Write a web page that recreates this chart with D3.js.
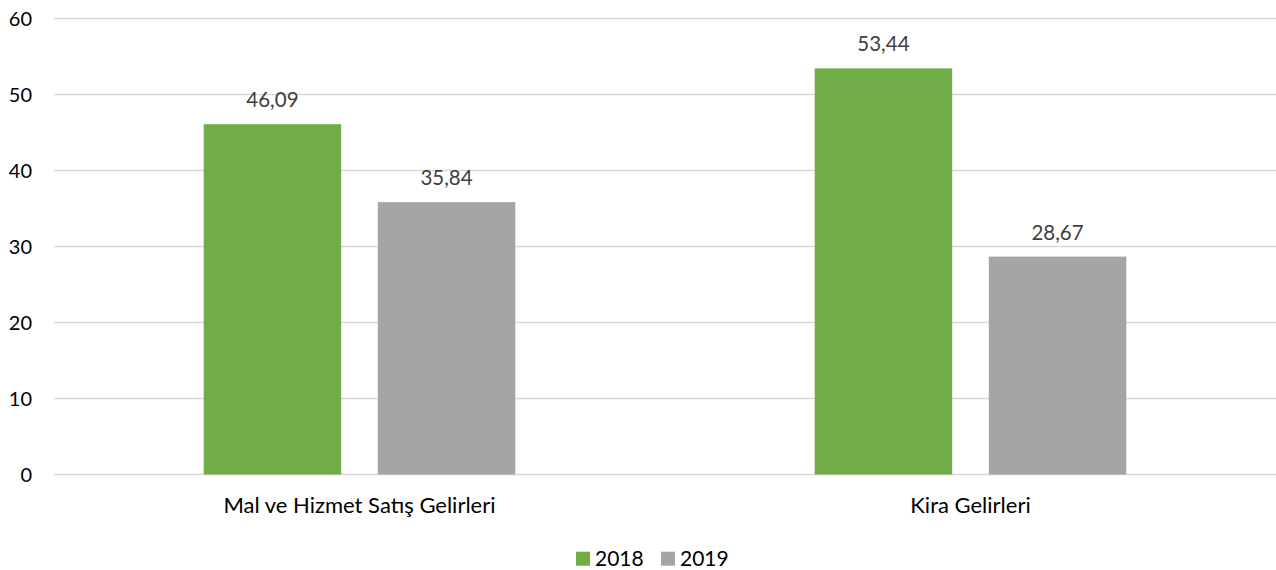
<!DOCTYPE html>
<html><head><meta charset="utf-8">
<script src="https://cdn.jsdelivr.net/npm/d3@7"></script>
<style>body{margin:0;background:#fff}svg{display:block}</style>
</head><body>
<svg id="c" width="1276" height="570"></svg>
<script>
const categories = ["Mal ve Hizmet Satış Gelirleri", "Kira Gelirleri"];
const seriesNames = ["2018", "2019"];
const values2018 = [46.09, 53.44];
const values2019 = [35.84, 28.67];
const yTicks = [0, 10, 20, 30, 40, 50, 60];
const colors = ["#70AD47", "#A5A5A5"];

const svg = d3.select("#c");
const font = "Lato, sans-serif";
const fs = 20;
const x0 = d3.scaleBand().domain(categories).range([54, 1276]).paddingInner(0).paddingOuter(0);
const y = d3.scaleLinear().domain([0, 60]).range([474.5, 18.5]);
const bw = 137.5, gap = 36.6;

svg.append("g").selectAll("line").data(yTicks).join("line")
  .attr("x1", 54).attr("x2", 1276)
  .attr("y1", d => y(d)).attr("y2", d => y(d))
  .attr("stroke", "#D9D9D9").attr("stroke-width", 1.3);

svg.append("g").selectAll("text").data(yTicks).join("text")
  .attr("x", 32).attr("y", d => y(d)).attr("dy", "0.35em")
  .attr("text-anchor", "end").attr("font-family", font).attr("font-size", fs)
  .attr("fill", "#000").text(d => d);

const data = [];
categories.forEach((c, i) => {
  [values2018, values2019].forEach((vals, s) => data.push({c, s, v: vals[i]}));
});
const xb = d => x0(d.c) + x0.bandwidth() / 2 - (bw + gap / 2) + d.s * (bw + gap);

svg.append("g").selectAll("rect").data(data).join("rect")
  .attr("x", xb).attr("width", bw)
  .attr("y", d => y(d.v)).attr("height", d => y(0) - y(d.v))
  .attr("fill", d => colors[d.s]);

svg.append("g").selectAll("text").data(data).join("text")
  .attr("x", d => xb(d) + bw / 2).attr("y", d => y(d.v) - 17)
  .attr("text-anchor", "middle").attr("font-family", font).attr("font-size", 20.5)
  .attr("fill", "#404040").text(d => d.v.toFixed(2).replace(".", ","));

svg.append("g").selectAll("text").data(categories).join("text")
  .attr("x", d => x0(d) + x0.bandwidth() / 2).attr("y", 513)
  .attr("text-anchor", "middle").attr("font-family", font).attr("font-size", 22)
  .attr("fill", "#000").text(d => d);

const lg = svg.append("g");
const lx = [576, 661];
seriesNames.forEach((n, i) => {
  lg.append("rect").attr("x", lx[i]).attr("y", 551.7).attr("width", 14).attr("height", 14).attr("fill", colors[i]);
  lg.append("text").attr("x", lx[i] + 19).attr("y", 566).attr("font-family", font).attr("font-size", 21)
    .attr("fill", "#000").text(n);
});
</script>
</body></html>
